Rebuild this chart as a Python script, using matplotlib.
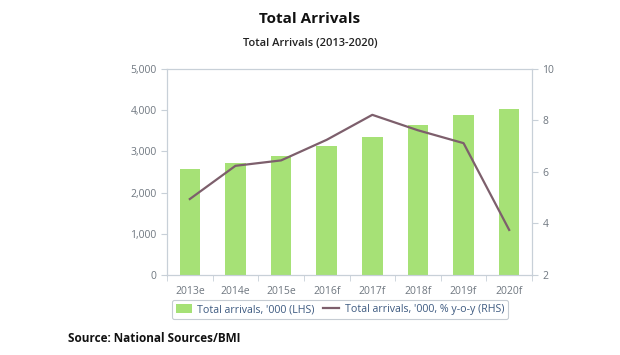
import matplotlib.pyplot as plt
import numpy as np

plt.rcParams['font.family'] = ['Open Sans', 'DejaVu Sans']

# данные
years = ["2013e", "2014e", "2015e", "2016f", "2017f", "2018f", "2019f", "2020f"]
arrivals = [2565, 2715, 2900, 3125, 3360, 3640, 3880, 4030]
growth = [4.95, 6.24, 6.45, 7.25, 8.22, 7.62, 7.12, 3.75]

fig = plt.figure(figsize=(6.2, 3.55), dpi=100)
ax = fig.add_axes([167 / 620, 1 - 275 / 355, 365 / 620, 206 / 355])
ax2 = ax.twinx()

x = np.arange(len(years))
bars = ax.bar(x, arrivals, width=0.45, color="#a6e176", zorder=2,
              label="Total arrivals, '000 (LHS)")
line, = ax2.plot(x, growth, color="#7d5f6c", linewidth=1.6,
                 label="Total arrivals, '000, % y-o-y (RHS)")

ax.set_xlim(-0.5, 7.5)
ax.set_ylim(0, 5000)
ax.set_yticks(range(0, 5001, 1000))
ax.set_yticklabels([f"{v:,}" for v in range(0, 5001, 1000)])
ax2.set_ylim(2, 10)
ax2.set_yticks([2, 4, 6, 8, 10])

ax.set_xticks(x)
ax.set_xticklabels(years)
ax.set_xticks(np.arange(-0.5, 8, 1), minor=True)
ax.tick_params(axis='x', which='major', length=0, pad=8)
ax.tick_params(axis='x', which='minor', length=4, color="#c8d0d8")

gray = "#c8d0d8"
for a in (ax, ax2):
    for s in a.spines.values():
        s.set_color(gray)
        s.set_linewidth(0.8)
    a.tick_params(axis='y', labelsize=7.5, colors="#6f7780", length=4)
    a.tick_params(axis='y', color=gray)
ax.tick_params(axis='x', labelsize=7.5, labelcolor="#6f7780")
ax.spines['bottom'].set_color("#b8c4d0")

fig.text(0.5, 1 - 19 / 355, "Total Arrivals", ha="center", va="center",
         fontsize=11, fontweight="bold", color="#111111")
fig.text(0.5, 1 - 43 / 355, "Total Arrivals (2013-2020)", ha="center",
         va="center", fontsize=8, fontweight="semibold", color="#222222")

leg = fig.legend([bars, line], [bars.get_label(), line.get_label()],
                 loc="center", bbox_to_anchor=(340 / 620, 1 - 309.5 / 355),
                 ncol=2, fontsize=7.7, frameon=True, handlelength=1.5,
                 handleheight=0.9, columnspacing=0.8, handletextpad=0.5,
                 borderpad=0.35, fancybox=True)
leg.get_frame().set_edgecolor("#b8c0c8")
leg.get_frame().set_linewidth(0.8)
for t in leg.get_texts():
    t.set_color("#3d5a80")

fig.text(68 / 620, 1 - 339 / 355, "Source: National Sources/BMI", ha="left",
         va="center", fontsize=8.5, fontweight="bold", color="#111111")

fig.savefig("out.png", dpi=100)
